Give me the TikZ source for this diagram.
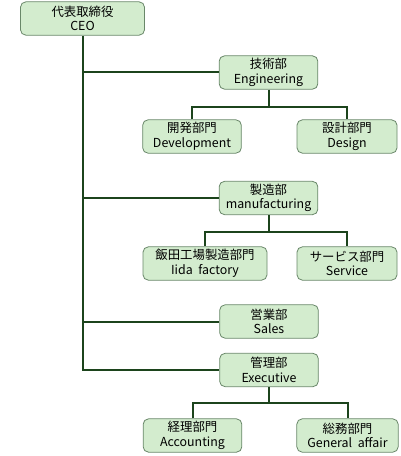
\documentclass[tikz,border=0pt]{standalone}
\usepackage{fontspec}
\usepackage{tikz}
\usepackage{xcolor}
\newfontfamily\jpfont{Noto Sans CJK JP}
\usetikzlibrary{
    positioning,
    calc
}
\definecolor{boxfill}{RGB}{211,236,206}
\definecolor{boxline}{RGB}{105,135,105}
\definecolor{linegreen}{RGB}{28,68,28}
\tikzset{
  org/.style  = {draw=boxline, fill=boxfill, rounded corners=4pt,
                 line width=0.6pt, minimum height=25pt, align=center,
                 inner sep=1pt,
                 font=\jpfont\fontsize{9.3}{11}\selectfont},
  link/.style = {linegreen, line width=1.5pt}
}

\begin{document}
\begin{tikzpicture}[x=0.75pt, y=-0.75pt,
    w74/.style={org, minimum width=74pt},
    w93/.style={org, minimum width=93pt}
  ]
    \useasboundingbox (0,0) rectangle (400,456);
    \node[w93](ceo) at (82.5,18.5)  {代表取締役\\CEO};
    \node[w74](eng) at (268.5,72.5) {技術部\\Engineering};
    \node[w74](dev) at (192,136.5)  {開発部門\\Development};
    \node[w74, minimum width=75pt](des) at (347,136.5) {設計部門\\Design};
    \node[w74](man) at (268.5,198)  {製造部\\manufacturing};
    \node[w93](iid) at (205,263.5)  {飯田工場製造部門\\Iida\ \ factory};
    \node[w74, minimum width=75pt](srv) at (347,263.5) {サービス部門\\Service};
    \node[w74](sal) at (269,321.5)  {営業部\\Sales};
    \node[w74](exe) at (269,370)    {管理部\\Executive};
    \node[w74](acc) at (192.5,435.5){経理部門\\Accounting};
    \node[w74, minimum width=76pt](gen) at (347.5,435.5){総務部門\\General\ \ affair};

    % trunk
    \draw[link] (ceo.south) -- (ceo.south |- exe.west) -- (exe.west);
    \draw[link] (ceo.south |- eng.west) -- (eng.west);
    \draw[link] (ceo.south |- man.west) -- (man.west);
    \draw[link] (ceo.south |- sal.west) -- (sal.west);

    % sub branches
    \coordinate (ej) at ($(eng.south)+(0,17)$);
    \coordinate (mj) at ($(man.south)+(0,17)$);
    \coordinate (xj) at ($(exe.south)+(0,16)$);
    \draw[link] (eng.south) -- (ej);
    \draw[link] (dev.north) |- (ej) -| (des.north);
    \draw[link] (man.south) -- (mj);
    \draw[link] (iid.north) |- (mj) -| (srv.north);
    \draw[link] (exe.south) -- (xj);
    \draw[link] (acc.north) |- (xj) -| (gen.north);
  \end{tikzpicture}
\end{document}
